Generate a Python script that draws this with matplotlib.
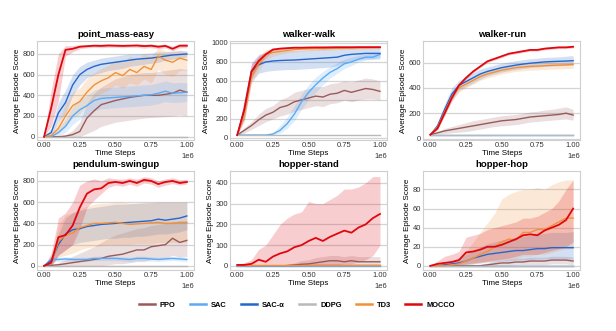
import matplotlib
matplotlib.use("Agg")
import matplotlib.pyplot as plt
import numpy as np

plt.rcParams["font.family"] = ["Liberation Sans", "DejaVu Sans"]

# training steps (fractions of 1e6)
steps = [0.00, 0.05, 0.10, 0.15, 0.20, 0.25, 0.30, 0.35, 0.40, 0.45, 0.50,
         0.55, 0.60, 0.65, 0.70, 0.75, 0.80, 0.85, 0.90, 0.95, 1.00]

methods = ["PPO", "SAC", "SAC-α", "DDPG", "TD3", "MOCCO"]
colors = ["#985a5a", "#5aaaf5", "#2566cc", "#b9b9b9", "#f29039", "#e0070f"]
tasks = ["point_mass-easy", "walker-walk", "walker-run",
         "pendulum-swingup", "hopper-stand", "hopper-hop"]

# ---- point_mass-easy ----
pm_ppo = [0, 0, 0, 5, 20, 50, 180, 250, 310, 330, 350, 365, 380, 390, 400, 400, 400, 410, 420, 450, 430]
pm_ppo_lo = [0, 0, 0, 0, 0, 0, 30, 60, 100, 120, 140, 150, 160, 170, 180, 185, 190, 195, 200, 210, 200]
pm_ppo_hi = [0, 0, 0, 20, 60, 140, 320, 420, 480, 520, 560, 580, 600, 610, 620, 620, 630, 640, 650, 660, 650]
pm_sac = [0, 0, 40, 100, 200, 260, 300, 350, 370, 375, 380, 385, 390, 395, 400, 405, 420, 440, 420, 425, 430]
pm_sac_lo = [0, 0, 10, 40, 120, 170, 210, 250, 270, 275, 280, 285, 290, 295, 300, 305, 320, 340, 330, 335, 340]
pm_sac_hi = [0, 10, 80, 170, 290, 360, 400, 450, 470, 475, 480, 485, 490, 495, 500, 505, 520, 540, 520, 525, 520]
pm_saca = [0, 40, 230, 330, 500, 600, 650, 680, 700, 710, 720, 730, 740, 750, 755, 760, 770, 780, 790, 795, 800]
pm_saca_lo = [0, 10, 150, 220, 400, 500, 570, 600, 620, 640, 650, 660, 680, 690, 700, 710, 720, 740, 750, 760, 770]
pm_saca_hi = [0, 80, 330, 450, 600, 680, 720, 740, 760, 770, 780, 790, 800, 800, 805, 810, 820, 820, 830, 830, 830]
pm_ddpg = [0, 0, 0, 0, 0, 0, 0, 0, 0, 0, 0, 0, 0, 0, 0, 0, 0, 0, 0, 0, 0]
pm_ddpg_lo = [0, -5, -5, -5, -5, -5, -5, -5, -5, -5, -5, -5, -5, -5, -5, -5, -5, -5, -5, -5, -5]
pm_ddpg_hi = [0, 5, 5, 5, 5, 5, 5, 5, 5, 5, 5, 5, 5, 5, 5, 5, 5, 5, 5, 5, 5]
pm_td3 = [0, 10, 80, 200, 300, 340, 430, 500, 540, 570, 620, 590, 650, 620, 680, 650, 780, 740, 720, 760, 740]
pm_td3_lo = [0, 0, 30, 100, 180, 220, 300, 380, 420, 450, 500, 470, 520, 500, 560, 520, 650, 600, 580, 640, 640]
pm_td3_hi = [0, 30, 150, 320, 430, 470, 560, 620, 660, 690, 740, 720, 780, 750, 800, 780, 860, 830, 820, 840, 820]
pm_mocco = [0, 280, 600, 840, 850, 870, 875, 880, 878, 882, 880, 878, 880, 882, 876, 880, 870, 878, 850, 880, 880]
pm_mocco_lo = [0, 100, 350, 780, 820, 850, 860, 865, 860, 865, 865, 860, 865, 865, 855, 862, 850, 860, 830, 860, 860]
pm_mocco_hi = [0, 450, 800, 880, 880, 890, 890, 895, 895, 898, 895, 895, 895, 898, 895, 895, 890, 895, 875, 900, 900]

# ---- walker-walk ----
ww_ppo = [30, 80, 130, 190, 240, 270, 320, 340, 380, 400, 420, 440, 430, 460, 470, 500, 480, 500, 520, 510, 490]
ww_ppo_lo = [30, 50, 90, 130, 170, 200, 230, 250, 280, 300, 320, 340, 330, 360, 370, 400, 380, 400, 410, 410, 400]
ww_ppo_hi = [30, 110, 170, 250, 310, 340, 400, 430, 480, 500, 520, 540, 540, 570, 580, 600, 590, 610, 630, 620, 600]
ww_sac = [30, 30, 30, 30, 30, 40, 80, 150, 250, 380, 480, 560, 630, 690, 730, 780, 800, 830, 850, 850, 880]
ww_sac_lo = [30, 30, 30, 30, 30, 30, 50, 100, 180, 300, 400, 480, 560, 630, 680, 730, 760, 800, 820, 830, 850]
ww_sac_hi = [30, 30, 30, 30, 30, 60, 130, 220, 340, 460, 560, 640, 700, 750, 790, 830, 850, 870, 880, 890, 900]
ww_saca = [30, 300, 700, 770, 800, 810, 815, 818, 820, 825, 830, 835, 840, 845, 850, 870, 880, 885, 890, 890, 890]
ww_saca_lo = [30, 200, 600, 680, 700, 710, 715, 720, 720, 725, 730, 735, 740, 745, 760, 790, 810, 820, 830, 830, 830]
ww_saca_hi = [30, 400, 790, 880, 900, 910, 915, 920, 920, 925, 930, 935, 940, 945, 950, 950, 950, 950, 950, 950, 950]
ww_ddpg = [30, 30, 30, 30, 30, 30, 30, 30, 30, 30, 30, 30, 30, 30, 30, 30, 30, 30, 30, 30, 30]
ww_ddpg_lo = [30, 25, 25, 25, 25, 25, 25, 25, 25, 25, 25, 25, 25, 25, 25, 25, 25, 25, 25, 25, 25]
ww_ddpg_hi = [30, 35, 35, 35, 35, 35, 35, 35, 35, 35, 35, 35, 35, 35, 35, 35, 35, 35, 35, 35, 35]
ww_td3 = [30, 250, 650, 780, 880, 900, 910, 920, 930, 935, 938, 940, 940, 942, 944, 945, 946, 948, 948, 950, 950]
ww_td3_lo = [30, 170, 570, 700, 820, 860, 880, 895, 905, 912, 918, 920, 922, 925, 928, 930, 932, 935, 936, 938, 938]
ww_td3_hi = [30, 330, 730, 860, 930, 940, 945, 950, 955, 957, 958, 960, 960, 960, 961, 961, 962, 962, 962, 963, 963]
ww_mocco = [30, 300, 700, 810, 880, 930, 940, 945, 950, 950, 952, 953, 953, 954, 955, 955, 955, 956, 956, 956, 956]
ww_mocco_lo = [30, 200, 620, 760, 850, 910, 925, 935, 940, 940, 943, 945, 945, 946, 947, 948, 948, 949, 949, 949, 949]
ww_mocco_hi = [30, 420, 780, 860, 910, 950, 955, 958, 960, 962, 962, 962, 962, 963, 963, 963, 963, 963, 963, 963, 963]

# ---- walker-run ----
wr_ppo = [30, 45, 60, 70, 80, 90, 100, 110, 120, 130, 140, 145, 150, 160, 170, 175, 180, 185, 190, 200, 185]
wr_ppo_lo = [30, 35, 40, 45, 50, 55, 65, 75, 85, 95, 100, 105, 110, 120, 130, 135, 140, 145, 150, 155, 145]
wr_ppo_hi = [30, 55, 80, 95, 110, 125, 140, 150, 160, 170, 180, 185, 190, 200, 210, 215, 225, 230, 240, 250, 230]
wr_sac = [30, 30, 30, 30, 30, 30, 30, 30, 30, 30, 30, 30, 30, 30, 30, 30, 30, 30, 30, 30, 30]
wr_sac_lo = [30, 27, 27, 27, 27, 27, 27, 27, 27, 27, 27, 27, 27, 27, 27, 27, 27, 27, 27, 27, 27]
wr_sac_hi = [30, 33, 33, 33, 33, 33, 33, 33, 33, 33, 33, 33, 33, 33, 33, 33, 33, 33, 33, 33, 33]
wr_saca = [30, 100, 230, 350, 420, 450, 480, 510, 530, 545, 560, 570, 580, 588, 595, 600, 605, 608, 610, 612, 615]
wr_saca_lo = [30, 80, 190, 300, 380, 410, 440, 470, 495, 510, 525, 535, 545, 553, 560, 565, 570, 573, 575, 577, 580]
wr_saca_hi = [30, 120, 270, 400, 460, 490, 520, 550, 565, 580, 595, 605, 615, 623, 630, 635, 640, 643, 645, 650, 655]
wr_ddpg = [30, 30, 30, 30, 30, 30, 30, 30, 30, 30, 30, 30, 30, 30, 30, 30, 30, 30, 30, 30, 30]
wr_ddpg_lo = [30, 28, 28, 28, 28, 28, 28, 28, 28, 28, 28, 28, 28, 28, 28, 28, 28, 28, 28, 28, 28]
wr_ddpg_hi = [30, 32, 32, 32, 32, 32, 32, 32, 32, 32, 32, 32, 32, 32, 32, 32, 32, 32, 32, 32, 32]
wr_td3 = [30, 90, 210, 330, 400, 430, 460, 490, 510, 525, 540, 550, 560, 565, 570, 572, 575, 578, 580, 582, 585]
wr_td3_lo = [30, 70, 180, 290, 365, 400, 430, 460, 480, 495, 510, 520, 530, 535, 540, 542, 545, 548, 550, 552, 555]
wr_td3_hi = [30, 110, 240, 370, 435, 460, 490, 520, 540, 555, 570, 580, 590, 595, 600, 602, 605, 608, 610, 612, 615]
wr_mocco = [30, 80, 200, 320, 420, 480, 530, 570, 610, 630, 650, 670, 680, 690, 700, 700, 710, 715, 720, 720, 725]
wr_mocco_lo = [30, 70, 185, 305, 405, 468, 520, 560, 600, 620, 640, 660, 670, 680, 690, 690, 700, 705, 710, 710, 715]
wr_mocco_hi = [30, 90, 215, 335, 435, 492, 540, 580, 620, 640, 660, 680, 690, 700, 710, 710, 720, 725, 730, 730, 735]

# ---- pendulum-swingup ----
ps_ppo = [0, 5, 10, 20, 30, 40, 50, 60, 70, 90, 100, 110, 130, 150, 150, 180, 190, 200, 260, 220, 240]
ps_ppo_lo = [0, 0, 0, 0, 0, 0, 0, 0, 0, 10, 20, 20, 30, 40, 40, 60, 60, 70, 100, 80, 90]
ps_ppo_hi = [0, 10, 30, 60, 90, 120, 150, 180, 220, 260, 290, 310, 330, 350, 360, 380, 390, 400, 420, 410, 410]
ps_sac = [0, 60, 60, 65, 60, 60, 60, 70, 70, 70, 70, 65, 60, 70, 70, 65, 60, 65, 70, 65, 60]
ps_sac_lo = [0, 40, 40, 45, 40, 40, 40, 50, 50, 50, 50, 45, 40, 50, 50, 45, 40, 45, 50, 45, 40]
ps_sac_hi = [0, 80, 80, 85, 80, 80, 80, 90, 90, 90, 90, 85, 80, 90, 90, 85, 80, 85, 90, 85, 80]
ps_saca = [0, 50, 200, 300, 340, 350, 370, 380, 390, 395, 400, 405, 410, 415, 420, 425, 440, 430, 440, 450, 470]
ps_saca_lo = [0, 0, 100, 150, 200, 220, 230, 240, 250, 260, 260, 270, 270, 280, 280, 290, 300, 300, 310, 320, 340]
ps_saca_hi = [0, 100, 300, 450, 500, 520, 540, 550, 560, 570, 580, 580, 585, 590, 590, 595, 600, 600, 600, 600, 600]
ps_ddpg = [0, 0, 0, 0, 0, 0, 0, 0, 0, 0, 0, 0, 0, 0, 0, 0, 0, 0, 0, 0, 0]
ps_ddpg_lo = [0, -5, -5, -5, -5, -5, -5, -5, -5, -5, -5, -5, -5, -5, -5, -5, -5, -5, -5, -5, -5]
ps_ddpg_hi = [0, 5, 5, 5, 5, 5, 5, 5, 5, 5, 5, 5, 5, 5, 5, 5, 5, 5, 5, 5, 5]
ps_td3 = [0, 30, 230, 290, 310, 360, 380, 400, 400, 405, 410, 400, 390, 395, 400, 405, 410, 400, 400, 410, 410]
ps_td3_lo = [0, 0, 80, 100, 120, 150, 170, 180, 190, 200, 200, 200, 200, 210, 210, 210, 220, 220, 220, 220, 220]
ps_td3_hi = [0, 80, 380, 480, 500, 540, 560, 580, 590, 590, 600, 600, 590, 590, 600, 600, 600, 600, 600, 600, 600]
ps_mocco = [0, 30, 270, 290, 380, 550, 680, 720, 730, 780, 790, 780, 800, 780, 810, 800, 770, 790, 800, 780, 790]
ps_mocco_lo = [0, 0, 100, 150, 200, 350, 550, 620, 680, 740, 760, 750, 770, 750, 780, 770, 740, 760, 775, 760, 770]
ps_mocco_hi = [0, 120, 450, 500, 600, 760, 800, 820, 800, 830, 820, 815, 830, 815, 840, 830, 800, 820, 830, 810, 815]

# ---- hopper-stand ----
hs_ppo = [0, 0, 0, 0, 0, 0, 0, 2, 5, 8, 10, 15, 20, 25, 25, 20, 25, 20, 20, 20, 20]
hs_ppo_lo = [0, 0, 0, 0, 0, 0, 0, 0, 0, 0, 0, 0, 2, 5, 5, 3, 5, 3, 3, 3, 3]
hs_ppo_hi = [0, 0, 0, 0, 0, 0, 2, 8, 15, 25, 30, 40, 45, 50, 50, 45, 50, 45, 45, 45, 45]
hs_sac = [0, 0, 0, 0, 0, 0, 0, 0, 0, 0, 0, 0, 0, 0, 0, 0, 0, 0, 0, 0, 0]
hs_sac_lo = [0, 0, 0, 0, 0, 0, 0, 0, 0, 0, 0, 0, 0, 0, 0, 0, 0, 0, 0, 0, 0]
hs_sac_hi = [0, 1, 1, 1, 1, 1, 1, 1, 1, 1, 1, 1, 1, 1, 1, 1, 1, 1, 1, 1, 1]
hs_saca = [0, 1, 1, 1, 1, 1, 1, 1, 1, 2, 2, 2, 2, 2, 2, 2, 2, 2, 2, 2, 2]
hs_saca_lo = [0, 0, 0, 0, 0, 0, 0, 0, 0, 0, 0, 0, 0, 0, 0, 0, 0, 0, 0, 0, 0]
hs_saca_hi = [0, 2, 2, 2, 2, 2, 2, 3, 3, 4, 4, 4, 4, 4, 4, 4, 4, 4, 4, 4, 4]
hs_ddpg = [0, 1, 1, 1, 1, 1, 1, 1, 1, 1, 1, 1, 1, 1, 1, 1, 1, 1, 1, 1, 1]
hs_ddpg_lo = [0, 0, 0, 0, 0, 0, 0, 0, 0, 0, 0, 0, 0, 0, 0, 0, 0, 0, 0, 0, 0]
hs_ddpg_hi = [0, 2, 2, 2, 2, 2, 2, 2, 2, 2, 2, 2, 2, 2, 2, 2, 2, 2, 2, 2, 2]
hs_td3 = [3, 3, 3, 3, 3, 3, 3, 3, 3, 3, 3, 3, 3, 3, 3, 3, 3, 3, 3, 3, 3]
hs_td3_lo = [1, 1, 1, 1, 1, 1, 1, 1, 1, 1, 1, 1, 1, 1, 1, 1, 1, 1, 1, 1, 1]
hs_td3_hi = [5, 5, 5, 5, 5, 5, 5, 5, 5, 5, 5, 5, 5, 5, 5, 5, 5, 5, 5, 5, 5]
hs_mocco = [5, 5, 10, 30, 20, 45, 60, 70, 90, 100, 120, 135, 120, 140, 155, 170, 160, 185, 200, 230, 250]
hs_mocco_lo = [0, 0, 0, 0, 0, 0, 0, 0, 0, 0, 0, 0, 0, 0, 5, 10, 10, 20, 30, 50, 100]
hs_mocco_hi = [10, 15, 30, 80, 100, 150, 200, 230, 250, 260, 310, 300, 300, 320, 340, 370, 370, 380, 400, 430, 430]

# ---- hopper-hop ----
hh_ppo = [0, 0, 0, 0, 0, 0, 0, 0, 1, 2, 3, 3, 4, 4, 5, 5, 5, 6, 6, 6, 5]
hh_ppo_lo = [0, 0, 0, 0, 0, 0, 0, 0, 0, 0, 0, 0, 1, 1, 1, 1, 1, 2, 2, 2, 1]
hh_ppo_hi = [0, 0, 0, 0, 0, 0, 1, 2, 3, 5, 6, 7, 8, 8, 9, 9, 9, 10, 10, 10, 9]
hh_sac = [0, 0, 0, 0, 0, 0, 0, 0, 0, 0, 0, 0, 0, 0, 0, 0, 0, 0, 0, 0, 0]
hh_sac_lo = [0, 0, 0, 0, 0, 0, 0, 0, 0, 0, 0, 0, 0, 0, 0, 0, 0, 0, 0, 0, 0]
hh_sac_hi = [0, 0, 0, 0, 0, 1, 1, 1, 1, 1, 1, 1, 1, 1, 1, 1, 1, 1, 1, 1, 1]
hh_saca = [0, 0, 1, 2, 3, 5, 8, 10, 12, 13, 14, 15, 16, 16, 17, 18, 18, 19, 19, 19, 19]
hh_saca_lo = [0, 0, 0, 0, 0, 1, 2, 3, 4, 4, 5, 5, 6, 6, 6, 7, 7, 7, 7, 7, 7]
hh_saca_hi = [0, 1, 3, 5, 8, 12, 16, 20, 23, 25, 27, 28, 30, 31, 32, 33, 34, 35, 35, 35, 36]
hh_ddpg = [0, 0, 0, 0, 0, 0, 0, 0, 0, 0, 0, 0, 0, 0, 0, 0, 0, 0, 0, 0, 0]
hh_ddpg_lo = [0, 0, 0, 0, 0, 0, 0, 0, 0, 0, 0, 0, 0, 0, 0, 0, 0, 0, 0, 0, 0]
hh_ddpg_hi = [0, 0, 0, 0, 0, 1, 1, 1, 1, 1, 1, 1, 1, 1, 1, 1, 1, 1, 1, 1, 1]
hh_td3 = [0, 0, 0, 1, 2, 5, 8, 12, 15, 20, 25, 28, 27, 35, 35, 38, 38, 42, 46, 50, 50]
hh_td3_lo = [0, 0, 0, 0, 0, 1, 2, 3, 4, 5, 6, 7, 8, 10, 10, 12, 12, 14, 16, 18, 18]
hh_td3_hi = [0, 0, 1, 3, 6, 15, 25, 35, 45, 55, 70, 75, 78, 80, 80, 82, 80, 85, 88, 90, 90]
hh_mocco = [0, 2, 3, 4, 6, 14, 15, 17, 20, 20, 22, 25, 28, 32, 33, 32, 37, 40, 43, 48, 60]
hh_mocco_lo = [0, 0, 0, 0, 0, 2, 3, 4, 5, 6, 7, 8, 10, 12, 12, 12, 14, 16, 18, 20, 25]
hh_mocco_hi = [0, 5, 10, 12, 15, 30, 32, 34, 38, 40, 42, 44, 46, 50, 50, 52, 56, 60, 68, 80, 90]

panels = {
    "point_mass-easy": [(pm_ppo, pm_ppo_lo, pm_ppo_hi), (pm_sac, pm_sac_lo, pm_sac_hi),
                        (pm_saca, pm_saca_lo, pm_saca_hi), (pm_ddpg, pm_ddpg_lo, pm_ddpg_hi),
                        (pm_td3, pm_td3_lo, pm_td3_hi), (pm_mocco, pm_mocco_lo, pm_mocco_hi)],
    "walker-walk": [(ww_ppo, ww_ppo_lo, ww_ppo_hi), (ww_sac, ww_sac_lo, ww_sac_hi),
                    (ww_saca, ww_saca_lo, ww_saca_hi), (ww_ddpg, ww_ddpg_lo, ww_ddpg_hi),
                    (ww_td3, ww_td3_lo, ww_td3_hi), (ww_mocco, ww_mocco_lo, ww_mocco_hi)],
    "walker-run": [(wr_ppo, wr_ppo_lo, wr_ppo_hi), (wr_sac, wr_sac_lo, wr_sac_hi),
                   (wr_saca, wr_saca_lo, wr_saca_hi), (wr_ddpg, wr_ddpg_lo, wr_ddpg_hi),
                   (wr_td3, wr_td3_lo, wr_td3_hi), (wr_mocco, wr_mocco_lo, wr_mocco_hi)],
    "pendulum-swingup": [(ps_ppo, ps_ppo_lo, ps_ppo_hi), (ps_sac, ps_sac_lo, ps_sac_hi),
                         (ps_saca, ps_saca_lo, ps_saca_hi), (ps_ddpg, ps_ddpg_lo, ps_ddpg_hi),
                         (ps_td3, ps_td3_lo, ps_td3_hi), (ps_mocco, ps_mocco_lo, ps_mocco_hi)],
    "hopper-stand": [(hs_ppo, hs_ppo_lo, hs_ppo_hi), (hs_sac, hs_sac_lo, hs_sac_hi),
                     (hs_saca, hs_saca_lo, hs_saca_hi), (hs_ddpg, hs_ddpg_lo, hs_ddpg_hi),
                     (hs_td3, hs_td3_lo, hs_td3_hi), (hs_mocco, hs_mocco_lo, hs_mocco_hi)],
    "hopper-hop": [(hh_ppo, hh_ppo_lo, hh_ppo_hi), (hh_sac, hh_sac_lo, hh_sac_hi),
                   (hh_saca, hh_saca_lo, hh_saca_hi), (hh_ddpg, hh_ddpg_lo, hh_ddpg_hi),
                   (hh_td3, hh_td3_lo, hh_td3_hi), (hh_mocco, hh_mocco_lo, hh_mocco_hi)],
}

y_limits = {
    "point_mass-easy": (-30, 925),
    "walker-walk": (-20, 1020),
    "walker-run": (-10, 770),
    "pendulum-swingup": (-40, 890),
    "hopper-stand": (-20, 455),
    "hopper-hop": (-4.5, 99),
}

fig, axes = plt.subplots(2, 3, figsize=(6.16, 3.31), dpi=100)
fig.subplots_adjust(left=0.06, right=0.942, top=0.876, bottom=0.184,
                    wspace=0.23, hspace=0.32)

x = np.array(steps) * 1e6
handles = []
for ax, task in zip(axes.flat, tasks):
    for (mean, lo, hi), name, col in zip(panels[task], methods, colors):
        ax.fill_between(x, lo, hi, color=col, alpha=0.2, linewidth=0)
        lw = 1.3 if name == "MOCCO" else 1.0
        line, = ax.plot(x, mean, color=col, lw=lw, label=name,
                        zorder=3 if name == "MOCCO" else 2)
        if task == tasks[0]:
            handles.append(line)
    ax.set_title(task, fontsize=6.8, fontweight="bold", pad=3)
    ax.set_xlabel("Time Steps", fontsize=5.8, labelpad=0.5)
    ax.set_ylabel("Average Episode Score", fontsize=5.8, labelpad=1)
    ax.set_xticks([0, 0.25e6, 0.5e6, 0.75e6, 1.0e6])
    ax.set_ylim(*y_limits[task])
    ax.tick_params(labelsize=5.5, length=0, pad=1.5, colors="#333333")
    ax.xaxis.get_offset_text().set_fontsize(5.5)
    ax.grid(axis="y", color="#d4d4d4", lw=0.9)
    ax.set_axisbelow(True)
    for sp in ax.spines.values():
        sp.set_color("#cfcfcf")
        sp.set_linewidth(0.8)

leg = fig.legend(handles, methods, loc="center", bbox_to_anchor=(0.482, 0.078),
                 ncol=6, frameon=False, fontsize=5.4, handlelength=2.1,
                 columnspacing=1.9, handletextpad=0.7)
for t in leg.get_texts():
    t.set_fontweight("bold")
for h in leg.legend_handles:
    h.set_linewidth(1.8)

fig.savefig("out.png", dpi=100)
